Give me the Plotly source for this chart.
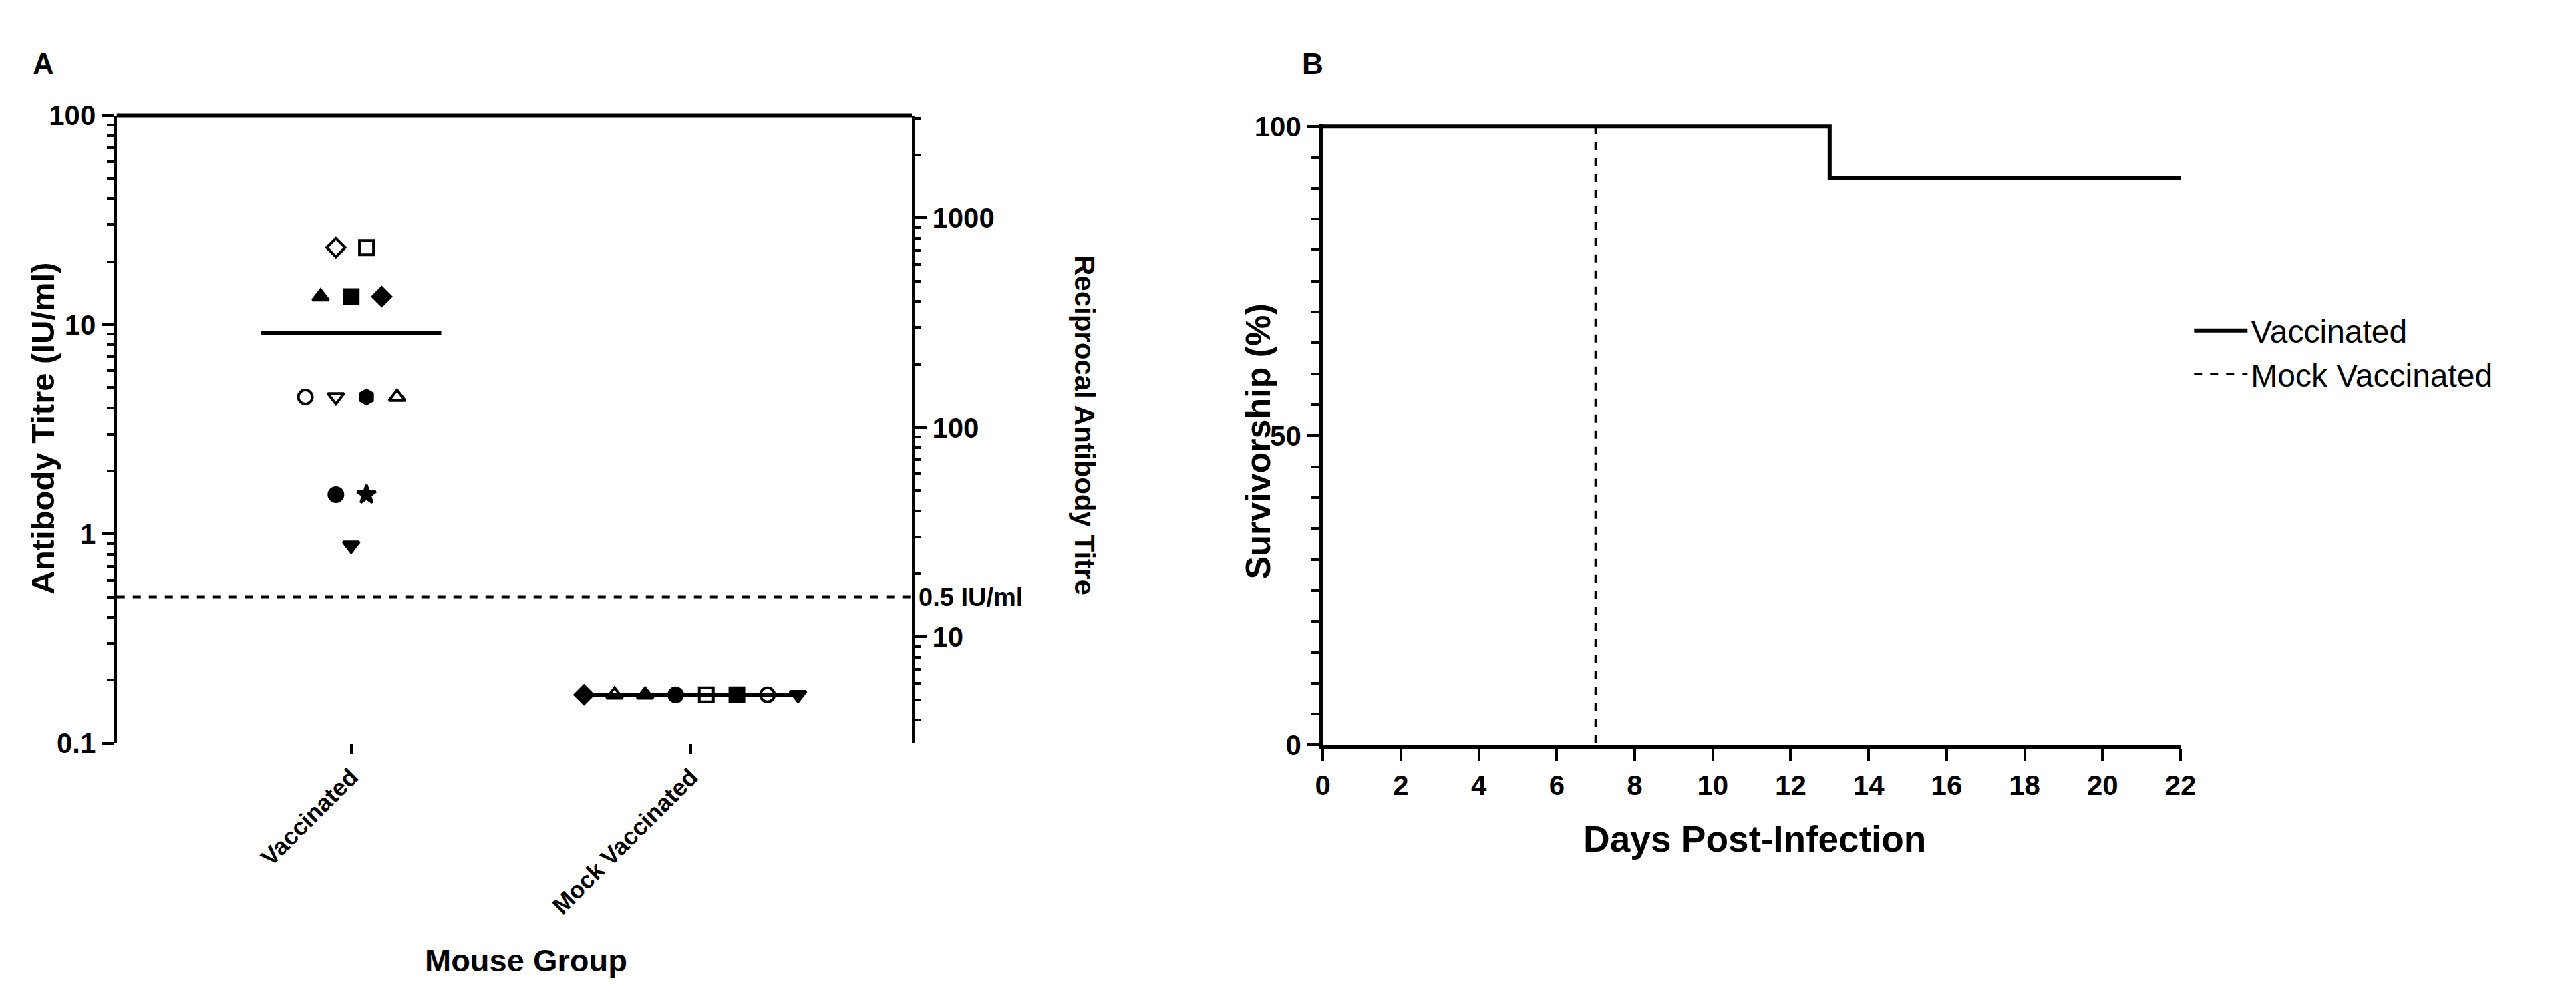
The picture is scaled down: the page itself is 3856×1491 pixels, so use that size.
import numpy as np
import plotly.graph_objects as go

# ---- Panel A data ----
groups = ["Vaccinated", "Mock Vaccinated"]
vacc_values = [23.3, 23.3, 13.6, 13.6, 13.6, 4.5, 4.5, 4.5, 4.5, 1.54, 1.54, 0.88]
vacc_symbols = ["diamond-open", "square-open", "triangle-up", "square", "diamond",
                "circle-open", "triangle-down-open", "hexagon", "triangle-up-open",
                "circle", "star", "triangle-down"]
mock_values = [0.17] * 8
mock_symbols = ["diamond", "triangle-up-open", "triangle-up", "circle", "square-open",
                "square", "circle-open", "triangle-down"]
threshold = 0.5
reciprocal_factor = 31
right_ticks = [10, 100, 1000]

# ---- Panel B data ----
days_vacc = [0, 13, 13, 22]
surv_vacc = [100, 100, 91.7, 91.7]
days_mock = [0, 7, 7]
surv_mock = [100, 100, 0]

FONT = "Liberation Sans"
NARROW = "Liberation Sans Narrow, Liberation Sans"
BLK = "black"

fig = go.Figure()

def row_offsets(vals, spacing=0.09):
    offs = []
    for i, v in enumerate(vals):
        same = [j for j, w in enumerate(vals) if w == v]
        k = same.index(i)
        offs.append((k - (len(same) - 1) / 2) * spacing)
    return offs

for gi, (vals, syms, half) in enumerate([(vacc_values, vacc_symbols, 0.265),
                                          (mock_values, mock_symbols, 0.32)]):
    m = float(np.mean(vals))
    fig.add_trace(go.Scatter(x=[gi - half, gi + half], y=[m, m], mode="lines",
                             line=dict(color=BLK, width=6), showlegend=False,
                             xaxis="x", yaxis="y"))
    offs = row_offsets(vals)
    fig.add_trace(go.Scatter(x=[gi + o for o in offs], y=vals, mode="markers",
                             marker=dict(symbol=syms, size=21, color=BLK,
                                         line=dict(color=BLK, width=4)),
                             showlegend=False, xaxis="x", yaxis="y"))

# dummy for right axis
fig.add_trace(go.Scatter(x=[0], y=[100], mode="markers", marker=dict(opacity=0),
                         showlegend=False, xaxis="x", yaxis="y2", hoverinfo="skip"))

# Panel B (mock drawn first so the solid line sits on top)
fig.add_trace(go.Scatter(x=days_mock, y=surv_mock, mode="lines", name="Mock Vaccinated",
                         legendrank=2,
                         line=dict(color=BLK, width=4, dash="dash"), xaxis="x2", yaxis="y3"))
fig.add_trace(go.Scatter(x=days_vacc, y=surv_vacc, mode="lines", name="Vaccinated",
                         legendrank=1,
                         line=dict(color=BLK, width=6), xaxis="x2", yaxis="y3"))

tickfont = dict(family=NARROW, size=42, color=BLK, weight="bold")
minor_left = [m * 10.0 ** e for e in range(-1, 2) for m in range(2, 10)]
minor_right = [m * 10.0 ** e for e in range(0, 4) for m in range(1, 10)
               if 3.1 <= m * 10.0 ** e <= 3100 and m * 10.0 ** e not in right_ticks]

fig.update_layout(
    width=3856, height=1491, margin=dict(l=0, r=0, t=0, b=0),
    paper_bgcolor="white", plot_bgcolor="white",
    xaxis=dict(domain=[0.0405, 0.352], range=[-0.69, 1.65], tickvals=[0, 1],
               ticktext=groups, tickangle=-45, tickfont=dict(family=FONT, size=36, color=BLK, weight="bold"),
               showgrid=False, zeroline=False, showline=False, ticks="outside",
               ticklen=14, tickwidth=4, tickcolor=BLK, anchor="y"),
    yaxis=dict(domain=[0.251, 0.902], type="log", range=[-1, 2],
               tickvals=[0.1, 1, 10, 100], ticktext=["0.1", "1", "10", "100"],
               tickfont=tickfont, showgrid=False, zeroline=False, showline=True,
               linecolor=BLK, linewidth=5, ticks="outside", ticklen=18, tickwidth=4,
               tickcolor=BLK, anchor="x",
               minor=dict(tickvals=minor_left, ticks="outside", ticklen=10, tickwidth=4, tickcolor=BLK)),
    yaxis2=dict(overlaying="y", side="right", type="log",
                range=[np.log10(0.1 * reciprocal_factor), np.log10(100 * reciprocal_factor)],
                tickvals=right_ticks, ticktext=[str(t) for t in right_ticks],
                tickfont=tickfont, showgrid=False, zeroline=False, showline=True,
                linecolor=BLK, linewidth=4, ticks="outside", ticklen=18, tickwidth=4,
                tickcolor=BLK, anchor="x",
                minor=dict(tickvals=minor_right, ticks="outside", ticklen=10, tickwidth=4, tickcolor=BLK)),
    xaxis2=dict(domain=[0.513, 0.849], range=[0, 22], dtick=2, tick0=0,
                tickfont=dict(family=NARROW, size=42, color=BLK, weight="bold"),
                showgrid=False, zeroline=False, showline=True, linecolor=BLK, linewidth=6,
                ticks="outside", ticklen=18, tickwidth=4, tickcolor=BLK, anchor="y3"),
    yaxis3=dict(domain=[0.249, 0.893], range=[0, 100.4], tickvals=[0, 50, 100],
                tickfont=dict(family=NARROW, size=42, color=BLK, weight="bold"),
                showgrid=False, zeroline=False, showline=True, linecolor=BLK, linewidth=6,
                ticks="outside", ticklen=18, tickwidth=4, tickcolor=BLK, anchor="x2",
                minor=dict(dtick=5, ticks="outside", ticklen=12, tickwidth=4, tickcolor=BLK)),
    legend=dict(x=0.853, y=0.705, xanchor="left", yanchor="top",
                font=dict(family=NARROW, size=48, color=BLK), tracegroupgap=10,
                itemwidth=80, bgcolor="rgba(0,0,0,0)"),
    showlegend=True,
)

# threshold dashed line and top border of panel A
fig.add_shape(type="line", xref="x domain", yref="y", x0=0, x1=1, y0=threshold, y1=threshold,
              line=dict(color=BLK, width=4, dash="dash"))
fig.add_shape(type="line", xref="x domain", yref="y domain", x0=0, x1=1, y0=1, y1=1,
              line=dict(color=BLK, width=6))

ann = [
    dict(text="<b>A</b>", x=45, y=67, size=44, angle=0),
    dict(text="<b>B</b>", x=1963, y=67, size=44, angle=0),
    dict(text="<b>Antibody Titre (IU/ml)</b>", x=45, y=630, size=49, angle=-90),
    dict(text="<b>Reciprocal Antibody Titre</b>", x=1618, y=625, size=42, angle=90),
    dict(text="<b>Mouse Group</b>", x=775, y=1452, size=47, angle=0),
    dict(text="<b>Survivorship (%)</b>", x=1880, y=650, size=52, angle=-90),
    dict(text="<b>Days Post-Infection</b>", x=2630, y=1265, size=55, angle=0),
]
for a in ann:
    fig.add_annotation(text=a["text"], x=a["x"] / 3856, y=1 - a["y"] / 1491,
                       xref="paper", yref="paper", showarrow=False, textangle=a["angle"],
                       xanchor="center", yanchor="middle",
                       font=dict(family=FONT, size=a["size"], color=BLK))
fig.add_annotation(text="<b>0.5 IU/ml</b>", xref="paper", yref="y", x=0.354, y=np.log10(threshold),
                   xanchor="left", yanchor="middle", showarrow=False,
                   font=dict(family=NARROW, size=38, color=BLK))

fig.write_html("out.html")
